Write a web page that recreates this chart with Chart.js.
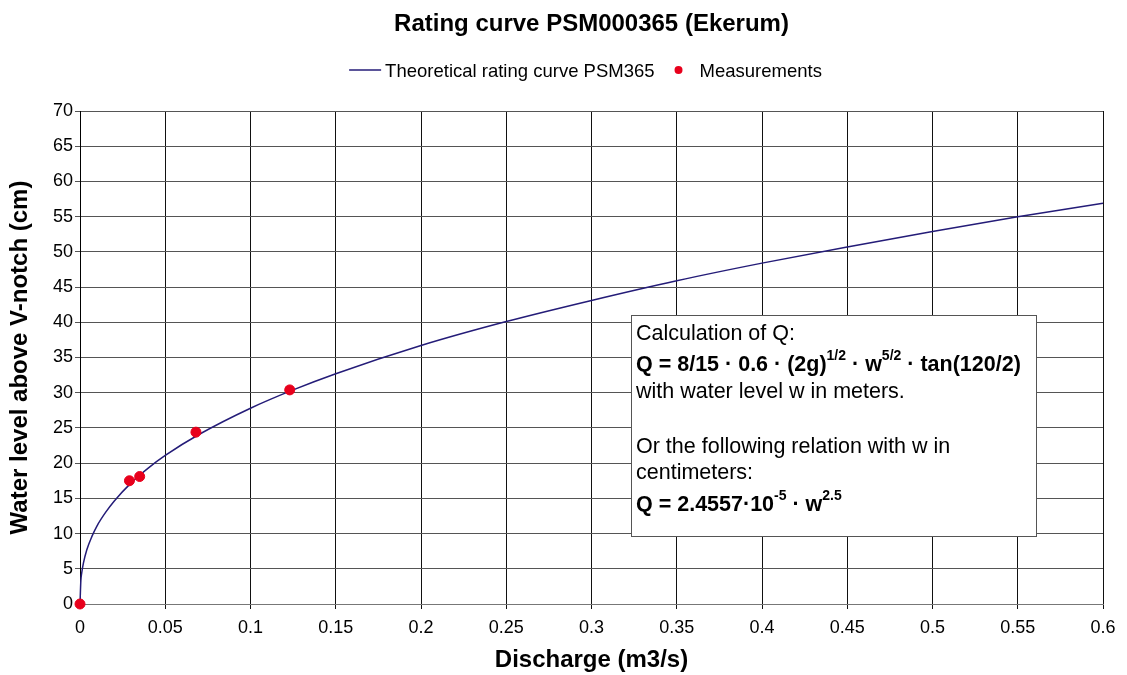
<!DOCTYPE html>
<html>
<head>
<meta charset="utf-8">
<script src="https://cdn.jsdelivr.net/npm/chart.js@4.4.1/dist/chart.umd.min.js"></script>
<style>
  html, body { margin: 0; padding: 0; background: #fff; }
  #wrap { width: 1127px; height: 675px; }
</style>
</head>
<body>
<div id="wrap"><canvas id="ratingChart" width="1127" height="675"></canvas></div>
<script>
// Theoretical curve
const curveQ = [0, 0.0005, 0.001, 0.002, 0.004, 0.007, 0.01, 0.015, 0.02, 0.03, 0.04, 0.05, 0.07,
                0.1, 0.125, 0.15, 0.2, 0.25, 0.3, 0.35, 0.4, 0.45, 0.5, 0.55, 0.6];
const curveW = [0, 3.3, 4.4, 5.8, 7.7, 9.6, 11.1, 13.0, 14.6, 17.2, 19.3, 21.1, 24.1,
                27.8, 30.4, 32.7, 36.7, 40.1, 43.1, 45.9, 48.4, 50.7, 52.9, 55.0, 56.9];

// Measured points
const measQ = [0, 0.029, 0.035, 0.068, 0.123];
const measW = [0, 17.5, 18.1, 24.4, 30.4];

const xTicks = [0, 0.05, 0.1, 0.15, 0.2, 0.25, 0.3, 0.35, 0.4, 0.45, 0.5, 0.55, 0.6];

const FONT = '"Liberation Sans", Arial, sans-serif';
const CURVE_COLOR = '#241c78';
const POINT_COLOR = '#e8001c';

// Title, legend and the formula box
const decorations = {
    id: 'decorations',
    afterDraw(chart) {
        const ctx = chart.ctx;
        const area = chart.chartArea;
        const cx = (area.left + area.right) / 2;
        ctx.save();

        // title
        ctx.fillStyle = '#000';
        ctx.textAlign = 'center';
        ctx.textBaseline = 'alphabetic';
        ctx.font = 'bold 24px ' + FONT;
        ctx.fillText('Rating curve PSM000365 (Ekerum)', cx, 31);

        // legend
        ctx.font = '18.5px ' + FONT;
        ctx.textAlign = 'left';
        const lab1 = 'Theoretical rating curve PSM365';
        const lab2 = 'Measurements';
        const w1 = ctx.measureText(lab1).width;
        const w2 = ctx.measureText(lab2).width;
        const total = 36 + w1 + 45 + w2;
        let lx = cx - total / 2 - 6;
        const ly = 70;
        ctx.strokeStyle = CURVE_COLOR;
        ctx.lineWidth = 1.5;
        ctx.beginPath();
        ctx.moveTo(lx, ly);
        ctx.lineTo(lx + 32, ly);
        ctx.stroke();
        ctx.fillStyle = '#000';
        ctx.fillText(lab1, lx + 36, ly + 7);
        lx += 36 + w1 + 24;
        ctx.fillStyle = POINT_COLOR;
        ctx.beginPath();
        ctx.arc(lx, ly, 4, 0, Math.PI * 2);
        ctx.fill();
        ctx.fillStyle = '#000';
        ctx.fillText(lab2, lx + 21, ly + 7);

        // formula box
        const bx = area.left + 551, by = area.top + 204, bw = 405, bh = 221;
        ctx.fillStyle = '#fff';
        ctx.fillRect(bx, by, bw, bh);
        ctx.strokeStyle = '#555';
        ctx.lineWidth = 1;
        ctx.strokeRect(bx + 0.5, by + 0.5, bw, bh);

        const tx = bx + 5;
        const reg = '21.5px ' + FONT;
        const bold = 'bold 21.5px ' + FONT;
        const sup = 'bold 14px ' + FONT;
        ctx.fillStyle = '#000';
        ctx.font = reg;
        ctx.fillText('Calculation of Q:', tx, by + 25);

        // runs of [text, font, raise]
        const drawRuns = (runs, x, y) => {
            runs.forEach(r => {
                ctx.font = r[1];
                ctx.fillText(r[0], x, y - r[2]);
                x += ctx.measureText(r[0]).width;
            });
        };
        drawRuns([
            ['Q = 8/15 \u00b7 0.6 \u00b7 (2g)', bold, 0],
            ['1/2', sup, 11],
            [' \u00b7 w', bold, 0],
            ['5/2', sup, 11],
            [' \u00b7 tan(120/2)', bold, 0]
        ], tx, by + 56);
        ctx.font = reg;
        ctx.fillText('with water level w in meters.', tx, by + 83);
        ctx.fillText('Or the following relation with w in', tx, by + 138);
        ctx.fillText('centimeters:', tx, by + 164);
        drawRuns([
            ['Q = 2.4557\u00b710', bold, 0],
            ['-5', sup, 11],
            [' \u00b7 w', bold, 0],
            ['2.5', sup, 11]
        ], tx, by + 196);

        ctx.restore();
    }
};

new Chart(document.getElementById('ratingChart'), {
    type: 'scatter',
    data: {
        datasets: [
            {
                label: 'Theoretical rating curve PSM365',
                data: curveQ.map((q, i) => ({ x: q, y: curveW[i] })),
                showLine: true,
                borderColor: CURVE_COLOR,
                borderWidth: 1.5,
                pointRadius: 0,
                cubicInterpolationMode: 'monotone',
                order: 2
            },
            {
                label: 'Measurements',
                data: measQ.map((q, i) => ({ x: q, y: measW[i] })),
                backgroundColor: POINT_COLOR,
                borderColor: POINT_COLOR,
                pointRadius: 5,
                order: 1
            }
        ]
    },
    options: {
        responsive: false,
        animation: false,
        clip: false,
        layout: { padding: { top: 111, right: 24, left: 0, bottom: 0 } },
        plugins: {
            legend: { display: false },
            title: { display: false },
            tooltip: { enabled: false }
        },
        scales: {
            x: {
                type: 'linear',
                min: 0,
                max: 0.6,
                afterBuildTicks: axis => { axis.ticks = xTicks.map(v => ({ value: v })); },
                afterFit: axis => { axis.height = 71; },
                ticks: {
                    color: '#000',
                    font: { family: FONT, size: 18 },
                    padding: 8,
                    maxRotation: 0,
                    callback: v => String(v)
                },
                grid: { color: '#111', tickLength: 5, drawTicks: true },
                border: { color: '#777', width: 1 },
                title: {
                    display: true,
                    text: 'Discharge (m3/s)',
                    color: '#000',
                    font: { family: FONT, size: 24, weight: 'bold' },
                    padding: 0
                }
            },
            y: {
                min: 0,
                max: 70,
                afterFit: axis => { axis.width = 80; },
                ticks: {
                    stepSize: 5,
                    color: '#000',
                    font: { family: FONT, size: 18 },
                    padding: 2
                },
                grid: { color: '#555', tickLength: 5, drawTicks: true },
                border: { color: '#000', width: 1 },
                title: {
                    display: true,
                    text: 'Water level above V-notch (cm)',
                    color: '#000',
                    font: { family: FONT, size: 24, weight: 'bold' },
                    padding: { top: 6, bottom: 0 }
                }
            }
        }
    },
    plugins: [decorations]
});
</script>
</body>
</html>
